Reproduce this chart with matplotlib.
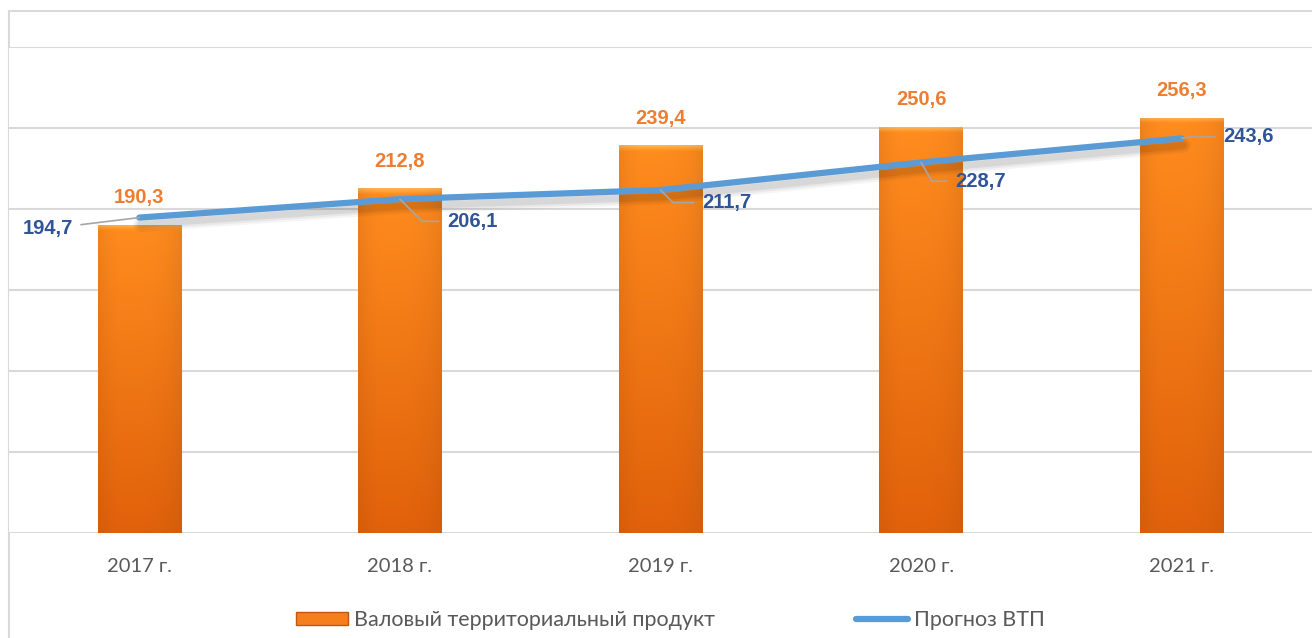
import numpy as np
import matplotlib
matplotlib.use("Agg")
import matplotlib.pyplot as plt
from matplotlib.patches import Rectangle
import matplotlib.patheffects as pe
from matplotlib.lines import Line2D

categories = ["2017 г.", "2018 г.", "2019 г.", "2020 г.", "2021 г."]
vtp = [190.3, 212.8, 239.4, 250.6, 256.3]
forecast = [194.7, 206.1, 211.7, 228.7, 243.6]
bar_label_texts = ["190,3", "212,8", "239,4", "250,6", "256,3"]
line_label_texts = ["194,7", "206,1", "211,7", "228,7", "243,6"]
legend_labels = ["Валовый территориальный продукт", "Прогноз ВТП"]

plt.rcParams['font.family'] = ['Lato', 'DejaVu Sans']
LABEL_FONT = ['Liberation Sans', 'DejaVu Sans']

W, H = 1312, 638
fig = plt.figure(figsize=(W / 100, H / 100), dpi=100)
ax = fig.add_axes([9 / W, (H - 533) / H, 1303 / W, 486 / H])

x = np.arange(len(categories))
ax.set_xlim(-0.5, len(categories) - 0.5)
ax.set_ylim(0, 300)

# frame of the chart area
fig.add_artist(Rectangle((9 / W, -0.1), 1.2, (H - 11) / H + 0.1, transform=fig.transFigure,
                         fill=False, edgecolor="#D9D9D9", linewidth=1.5, zorder=0))

ax.set_yticks(np.arange(0, 301, 50))
ax.yaxis.grid(True, color="#D9D9D9", linewidth=1.5)
ax.set_axisbelow(True)
ax.tick_params(axis="y", left=False, labelleft=False)
ax.tick_params(axis="x", length=0, labelsize=14.5, labelcolor="#595959", pad=18)
for s in ax.spines.values():
    s.set_visible(False)
ax.set_xticks(x)
ax.set_xticklabels(categories)

bw = 0.32
bars = ax.bar(x, vtp, width=bw, color="#F57F1C", edgecolor="none", zorder=2)

# gradient fill for bars
hgrad = np.array([0.78, 0.92, 1.0, 1.0, 1.0, 0.98, 0.95, 0.88, 0.76])
top_c = np.array([1.0, 0.55, 0.12])
bot_c = np.array([0.88, 0.38, 0.04])
dark = np.array([0.55, 0.25, 0.05])
for b in bars:
    x0, y0 = b.get_x(), b.get_y()
    w, h = b.get_width(), b.get_height()
    nx, ny = 60, 400
    hx = np.interp(np.linspace(0, 1, nx), np.linspace(0, 1, len(hgrad)), hgrad)
    t = np.linspace(0.0, 1.0, ny)[:, None, None]
    base = bot_c[None, None, :] * (1 - t) + top_c[None, None, :] * t
    f = hx[None, :, None]
    img = base * f + dark[None, None, :] * (1 - f) * 0.6 + base * (1 - f) * 0.4
    img = np.broadcast_to(img, (ny, nx, 3)).copy()
    bevel_px = max(int(ny * 7 / (h * 1.62)), 1)
    ramp = np.linspace(0, 1, bevel_px)[:, None, None]
    img[-bevel_px:, :, :] = np.clip(img[-bevel_px:, :, :] + ramp * np.array([0.0, 0.16, 0.2]), 0, 1)
    im = ax.imshow(np.clip(img, 0, 1), extent=[x0, x0 + w, y0, y0 + h], origin="lower",
                   aspect="auto", zorder=2.1, interpolation="bilinear")
    im.set_clip_path(b)

# bar labels
for xi, v, t in zip(x, vtp, bar_label_texts):
    ax.annotate(t, (xi, v), xytext=(0, 19.5), textcoords="offset points", ha="center", va="center",
                fontsize=14.5, fontweight="bold", color="#ED7D31", zorder=5, family=LABEL_FONT)

# forecast line with soft shadow
shadow = [pe.SimpleLineShadow(offset=(1, -5), shadow_color="#000000", alpha=a, linewidth=lw)
          for a, lw in [(0.04, 11), (0.05, 8), (0.07, 5)]]
ax.plot(x, forecast, color="#5B9BD5", linewidth=4.5, solid_capstyle="round", zorder=4,
        path_effects=shadow + [pe.Normal()])

# line labels with leader lines (offsets in points)
label_offsets = [(-48, -8), (34, -16), (30, -9), (24.5, -13.5), (30, 1)]
label_ha = ["right", "left", "left", "left", "left"]
label_conn = ["arc3,rad=0",
              "angle,angleA=0,angleB=-45,rad=0",
              "angle,angleA=0,angleB=-45,rad=0",
              "angle,angleA=0,angleB=-60,rad=0",
              "angle,angleA=0,angleB=10,rad=0"]
for xi, v, t, off, ha, cs in zip(x, forecast, line_label_texts, label_offsets, label_ha, label_conn):
    ax.annotate(t, (xi, v), xytext=off, textcoords="offset points", ha=ha, va="center",
                fontsize=14.5, fontweight="bold", color="#2F5597", zorder=6, family=LABEL_FONT,
                arrowprops=dict(arrowstyle="-", color="#A6A6A6", lw=1.2,
                                connectionstyle=cs, shrinkA=4, shrinkB=0))

# legend
handles = [Rectangle((0, 0), 1, 1, facecolor="#F57F1C", edgecolor="#C0580F"),
           Line2D([0], [0], color="#5B9BD5", linewidth=4.5, solid_capstyle="round")]
leg = fig.legend(handles, legend_labels, loc="center", bbox_to_anchor=(0.511, 0.028), ncol=2,
                 frameon=False, fontsize=15.5, handlelength=2.4, handleheight=0.6, handletextpad=0.25,
                 columnspacing=6.6, labelcolor="#595959")

fig.savefig("out.png", dpi=100, facecolor="white")
